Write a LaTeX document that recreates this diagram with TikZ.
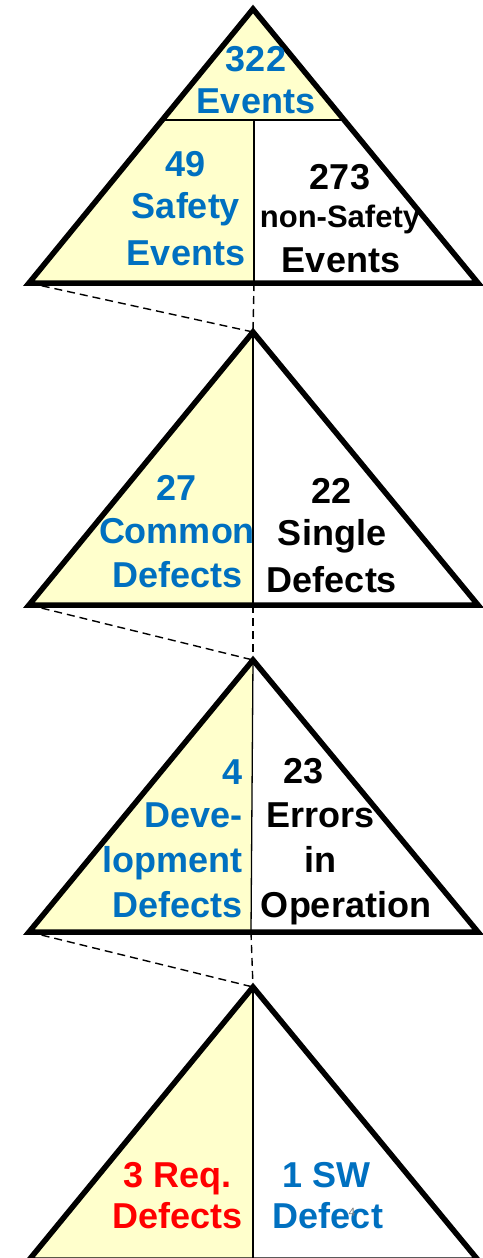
\documentclass[tikz,border=0pt]{standalone}
\usepackage{fontspec}
\setmainfont{Liberation Sans}
\definecolor{evblue}{HTML}{0070C0}
\definecolor{evred}{HTML}{FF0000}
\definecolor{evyellow}{HTML}{FFFFCC}
\begin{document}
\begin{tikzpicture}[x=1pt,y=-1pt,
  outline/.style={line width=5.5pt, line join=miter},
  divider/.style={line width=1.3pt},
  link/.style={line width=1.4pt, dash pattern=on 8pt off 5pt},
  lbl/.style={font=\fontsize{36}{36}\selectfont\bfseries, anchor=base, inner sep=0pt},
  lblr/.style={lbl, anchor=base east},
  lblsmall/.style={font=\fontsize{31}{31}\selectfont\bfseries, anchor=base, inner sep=0pt},
  pageno/.style={font=\fontsize{12}{12}\selectfont, text=gray, anchor=base, inner sep=0pt}]
\useasboundingbox (0,0) rectangle (482,1258);

% corner points of the four triangles
\coordinate (a1) at (253,9);    \coordinate (l1) at (29,283);  \coordinate (r1) at (478,283);  \coordinate (m1) at (254,283);
\coordinate (a2) at (253,332);  \coordinate (l2) at (29,605);  \coordinate (r2) at (478,605);  \coordinate (m2) at (253,605);
\coordinate (a3) at (253,660);  \coordinate (l3) at (29,932);  \coordinate (r3) at (478,932);  \coordinate (m3) at (251,932);
\coordinate (a4) at (253,987);  \coordinate (l4) at (29,1260); \coordinate (r4) at (478,1260); \coordinate (m4) at (253,1260);
% split of the top triangle
\coordinate (hl) at (162,120);  \coordinate (hr) at (344,120);  \coordinate (hm) at (254,120);

% yellow parts
\fill[evyellow] (a1) -- (hr) -- (hm) -- (m1) -- (l1) -- cycle;
\fill[evyellow] (a2) -- (m2) -- (l2) -- cycle;
\fill[evyellow] (a3) -- (m3) -- (l3) -- cycle;
\fill[evyellow] (a4) -- (m4) -- (l4) -- cycle;

% inner dividers
\draw[line width=2pt] (hl) -- (hr);
\draw[divider] (hm) -- (m1);
\draw[divider] (a2) -- (m2);
\draw[divider] (a3) -- (m3);
\draw[divider] (a4) -- (m4);

% triangle outlines
\draw[outline] (a1) -- (r1) -- (l1) -- cycle;
\draw[outline] (a2) -- (r2) -- (l2) -- cycle;
\draw[outline] (a3) -- (r3) -- (l3) -- cycle;
\draw[outline] (a4) -- (r4) -- (l4) -- cycle;

% zoom-in links between levels
\draw[link] (l1) -- (a2);  \draw[link] (m1) -- (a2);
\draw[link] (l2) -- (a3);  \draw[link] (m2) -- (a3);
\draw[link] (l3) -- (a4);  \draw[link] (m3) -- (a4);

% level 1
\node[lbl, text=evblue] (t1a) at (256,71) {322};
\node[lbl, text=evblue] (t1b) at (256,113) {Events};
\node[lbl, text=evblue] (t1c) at (186,176) {49};
\node[lbl, text=evblue] (t1d) at (186,218) {Safety};
\node[lbl, text=evblue] (t1e) at (186,265) {Events};
\node[lbl] (t1f) at (340,189) {273};
\node[lblsmall] (t1g) at (340,227) {non-Safety};
\node[lbl] (t1h) at (341,272) {Events};

% level 2
\node[lbl, text=evblue] (t2a) at (177,500) {27};
\node[lbl, text=evblue] (t2b) at (177,543) {Common};
\node[lbl, text=evblue] (t2c) at (178,587) {Defects};
\node[lbl] (t2d) at (332,503) {22};
\node[lbl] (t2e) at (332,545) {Single};
\node[lbl] (t2f) at (332,592) {Defects};

% level 3
\node[lblr, text=evblue] (t3a) at (243,784) {4};
\node[lblr, text=evblue] (t3b) at (243,827) {Deve-};
\node[lblr, text=evblue] (t3c) at (243,872) {lopment};
\node[lblr, text=evblue] (t3d) at (243,917) {Defects};
\node[lbl] (t3e) at (304,783) {23};
\node[lbl] (t3f) at (321,827) {Errors};
\node[lbl] (t3g) at (320,872) {in};
\node[lbl] (t3h) at (346,917) {Operation};

% level 4
\node[lbl, text=evred] (t4a) at (178,1187) {3 Req.};
\node[lbl, text=evred] (t4b) at (178,1228) {Defects};
\node[lbl, text=evblue] (t4c) at (327,1187) {1 SW};
\node[lbl, text=evblue] (t4d) at (328,1228) {Defect};
\node[pageno] (pg) at (352,1216) {4};
\end{tikzpicture}
\end{document}
